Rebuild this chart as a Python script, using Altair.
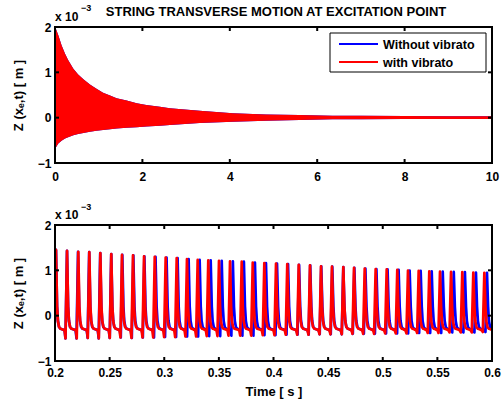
import altair as alt
import pandas as pd

FONT = "Liberation Sans"
BLUE = "#0000ff"
RED = "#ff0000"

SERIES = ["Without vibrato", "with vibrato"]
SERIES_COLORS = [BLUE, RED]
TITLE = "STRING TRANSVERSE MOTION AT EXCITATION POINT"
Y_TITLE = "Z (xₑ,t) [ m ]"
X_TITLE = "Time [ s ]"
EXP_BASE = "x 10"
EXP_POW = "−3"

top_xticks = [0, 2, 4, 6, 8, 10]
bot_xticks = [0.2, 0.25, 0.3, 0.35, 0.4, 0.45, 0.5, 0.55, 0.6]
yticks = [-1, 0, 1, 2]

# ---- top panel: envelope of the dense oscillation (x1e-3 m) ----
env_t = [0.0, 0.02, 0.076, 0.15, 0.23, 0.30, 0.42, 0.53, 0.65, 0.80,
         0.95, 1.10, 1.26, 1.41, 1.64, 1.87, 2.09, 2.40, 2.63, 3.31,
         4.07, 4.83, 5.59, 6.35, 7.0, 8.0, 9.0, 10.0]
env_hi = [2.0, 1.96, 1.82, 1.60, 1.41, 1.27, 1.08, 0.95, 0.85, 0.73,
          0.64, 0.55, 0.49, 0.43, 0.38, 0.32, 0.28, 0.24, 0.21, 0.15,
          0.10, 0.07, 0.06, 0.045, 0.04, 0.035, 0.03, 0.03]
env_lo = [-0.72, -0.66, -0.57, -0.51, -0.46, -0.43, -0.39, -0.36, -0.34, -0.31,
          -0.29, -0.27, -0.255, -0.24, -0.22, -0.21, -0.195, -0.18, -0.16, -0.12,
          -0.09, -0.07, -0.05, -0.035, -0.035, -0.03, -0.03, -0.03]

# ---- bottom panel: pulse peaks ----
red_peak_t = [0.2009, 0.2110, 0.2213, 0.2314, 0.2415, 0.2515, 0.2613, 0.2714, 0.2815, 0.2913,
              0.3013, 0.3114, 0.3208, 0.3306, 0.3403, 0.3501, 0.3602, 0.3709, 0.3810, 0.3916,
              0.4023, 0.4126, 0.4231, 0.4334, 0.4435, 0.4535, 0.4639, 0.4737, 0.4835, 0.4935,
              0.5036, 0.5133, 0.5231, 0.5329, 0.5426, 0.5524, 0.5625, 0.5728, 0.5829, 0.5930,
              0.6031]
blue_peak_t = [0.2009, 0.2110, 0.2211, 0.2313, 0.2414, 0.2515, 0.2616, 0.2717, 0.2818, 0.2920,
               0.3021, 0.3122, 0.3223, 0.3324, 0.3425, 0.3526, 0.3628, 0.3729, 0.3830, 0.3931,
               0.4032, 0.4133, 0.4234, 0.4336, 0.4437, 0.4538, 0.4639, 0.4740, 0.4841, 0.4942,
               0.5044, 0.5145, 0.5246, 0.5347, 0.5448, 0.5549, 0.5650, 0.5752, 0.5853, 0.5954,
               0.6055]
peak_z = [1.45, 1.43, 1.41, 1.40, 1.38, 1.36, 1.34, 1.33, 1.31, 1.30,
          1.28, 1.27, 1.25, 1.23, 1.22, 1.21, 1.20, 1.19, 1.17, 1.16,
          1.15, 1.14, 1.12, 1.11, 1.09, 1.08, 1.07, 1.055, 1.04, 1.025,
          1.02, 1.01, 0.995, 0.99, 0.98, 0.97, 0.965, 0.96, 0.95, 0.945,
          0.94]
dip_z = [-0.48, -0.50, -0.50, -0.49, -0.50, -0.49, -0.48, -0.49, -0.48, -0.48,
         -0.47, -0.47, -0.46, -0.46, -0.45, -0.45, -0.44, -0.44, -0.44, -0.43,
         -0.43, -0.42, -0.42, -0.42, -0.41, -0.41, -0.41, -0.40, -0.40, -0.40,
         -0.39, -0.39, -0.39, -0.38, -0.38, -0.38, -0.37, -0.37, -0.37, -0.36,
         -0.36]
# one period of the pulse shape, read around a single spike (offset s, level)
shape_dt = [-0.0034, -0.0022, -0.0014, 0.0, 0.0010, 0.0018, 0.0028, 0.0042, 0.0056]
shape_z = [-0.31, -0.33, "dip", "peak", 0.20, -0.12, -0.25, -0.29, -0.30]


def pulse_table(name, peaks):
    rows = []
    for k, tp in enumerate(peaks):
        for dt, z in zip(shape_dt, shape_z):
            if z == "dip":
                v = dip_z[k]
            elif z == "peak":
                v = peak_z[k]
            else:
                v = z
            rows.append({"t": round(tp + dt, 5), "z": v, "series": name})
    return pd.DataFrame(rows)


# geometry of the single view that holds both panels (pixels)
W = 437
PH = 136          # panel height
GAP = 62          # gap between panels
H = 2 * PH + GAP  # view height
B0 = PH + GAP     # top of bottom panel
TL = 4            # inward tick length


def xenc(field, domain, values, label_pad, axis_offset, title=None):
    return alt.X(f"{field}:Q",
                 scale=alt.Scale(domain=domain, nice=False, zero=False),
                 axis=alt.Axis(orient="bottom", offset=axis_offset, values=values,
                               format="~r", labelPadding=label_pad,
                               labelFlush=False, labelOverlap=False,
                               titleBaseline="alphabetic", titleY=34, titleX=W / 2),
                 title=title)


def yenc(field, y_top, y_bot):
    return alt.Y(f"{field}:Q",
                 scale=alt.Scale(domain=[-1, 2], nice=False, zero=False, range=[y_bot, y_top]),
                 axis=alt.Axis(orient="left", values=yticks, format="~r", labelPadding=4,
                               labelOverlap=False,
                               titleBaseline="alphabetic", titleX=-33),
                 title=Y_TITLE, stack=None)


def text_layer(txt, x, y, size, align="left", baseline="alphabetic"):
    return alt.Chart(pd.DataFrame({"label": [txt]})).mark_text(
        font=FONT, fontWeight="bold", fontSize=size, align=align,
        baseline=baseline, color="black").encode(
        text="label:N", x=alt.value(x), y=alt.value(y))


def frame_layers(xticks, domain, label_pad, y_top, y_bot, xtitle=None):
    xt = pd.DataFrame({"v": xticks})
    yt = pd.DataFrame({"w": yticks})
    rule = dict(color="black", strokeWidth=2)
    xe = xenc("v", domain, xticks, label_pad, y_bot - H, xtitle)
    ye = yenc("w", y_top, y_bot)
    box = alt.Chart(pd.DataFrame({"k": [0]})).mark_rect(
        filled=False, stroke="black", strokeWidth=2).encode(
        x=alt.value(0), x2=alt.value(W), y=alt.value(y_top), y2=alt.value(y_bot))
    return [
        alt.Chart(xt).mark_rule(**rule).encode(x=xe, y=alt.value(y_bot), y2=alt.value(y_bot - TL)),
        alt.Chart(xt).mark_rule(**rule).encode(x=xe, y=alt.value(y_top), y2=alt.value(y_top + TL)),
        alt.Chart(yt).mark_rule(**rule).encode(y=ye, x=alt.value(0), x2=alt.value(TL)),
        alt.Chart(yt).mark_rule(**rule).encode(y=ye, x=alt.value(W), x2=alt.value(W - TL)),
        box,
    ]


def legend_layers():
    box = alt.Chart(pd.DataFrame({"k": [0]})).mark_rect(
        fill="white", stroke="black", strokeWidth=1).encode(
        x=alt.value(275), x2=alt.value(431), y=alt.value(6), y2=alt.value(45))
    out = [box]
    for i, (name, col) in enumerate(zip(SERIES, SERIES_COLORS)):
        yy = 17 + 18 * i
        out.append(alt.Chart(pd.DataFrame({"series": [name]})).mark_rule(
            color=col, strokeWidth=2).encode(
            x=alt.value(284), x2=alt.value(323), y=alt.value(yy)))
        out.append(text_layer(name, 328, yy + 4.5, 12.5))
    return out


# ---- top panel ----
env_df = pd.DataFrame({"t": env_t, "hi": env_hi, "lo": env_lo})
top_dom = [0, 10]
TOP_OFF = PH - H
blue_area = alt.Chart(env_df).mark_area(color=BLUE).encode(
    x=xenc("t", top_dom, top_xticks, 8, TOP_OFF), y=yenc("hi", 0, PH), y2="lo:Q")
red_area = alt.Chart(env_df).mark_area(color=RED).encode(
    x=xenc("t", top_dom, top_xticks, 8, TOP_OFF), y=yenc("hi", 0, PH), y2="lo:Q")

top = alt.layer(
    blue_area, red_area,
    *frame_layers(top_xticks, top_dom, 8, 0, PH),
    *legend_layers(),
    text_layer(TITLE, 221, -11, 13, align="center"),
    text_layer(EXP_BASE, 0, -6.5, 12),
    text_layer(EXP_POW, 26, -16, 9),
)

# ---- bottom panel ----
color = alt.Color("series:N", scale=alt.Scale(domain=SERIES, range=SERIES_COLORS), legend=None)
bot_dom = [0.2, 0.6]
blue_line = alt.Chart(pulse_table(SERIES[0], blue_peak_t)).mark_line(
    strokeWidth=2.7, clip=True, strokeJoin="round").encode(
    x=xenc("t", bot_dom, bot_xticks, 6, 0, X_TITLE), y=yenc("z", B0, H), color=color)
red_line = alt.Chart(pulse_table(SERIES[1], red_peak_t)).mark_line(
    strokeWidth=2.7, clip=True, strokeJoin="round").encode(
    x=xenc("t", bot_dom, bot_xticks, 6, 0, X_TITLE), y=yenc("z", B0, H), color=color)

bottom = alt.layer(
    blue_line, red_line,
    *frame_layers(bot_xticks, bot_dom, 6, B0, H, X_TITLE),
    text_layer(EXP_BASE, 0, B0 - 6.5, 12),
    text_layer(EXP_POW, 26, B0 - 15, 9),
)

chart = alt.layer(top, bottom).resolve_scale(
    x="independent", y="independent").resolve_axis(
    x="independent", y="independent").properties(
    width=W, height=H,
    autosize=alt.AutoSizeParams(type="none"),
    padding={"left": 55, "top": 27, "right": 10, "bottom": 41},
    background="white",
).configure_view(stroke="transparent").configure_axis(
    grid=False, domain=False, ticks=False, tickSize=0,
    labelFont=FONT, labelFontWeight="bold", labelFontSize=12, labelColor="black",
    titleFont=FONT, titleFontWeight="bold", titleFontSize=13, titleColor="black",
)

chart.save("out.html", embed_options={"renderer": "svg", "actions": False})
